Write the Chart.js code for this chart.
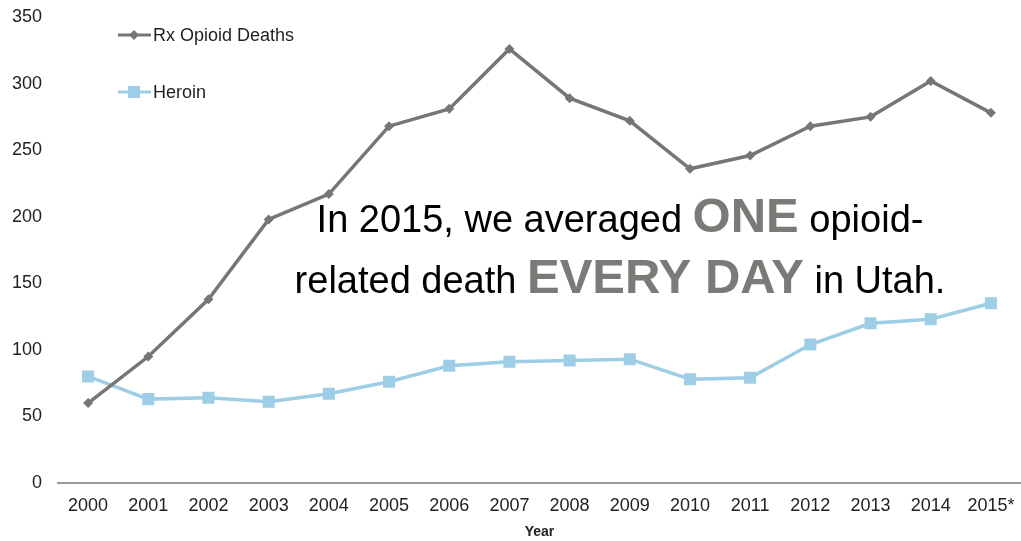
<!DOCTYPE html>
<html>
<head>
<meta charset="utf-8">
<script src="https://cdn.jsdelivr.net/npm/chart.js@4/dist/chart.umd.min.js"></script>
<style>
  html, body { margin: 0; padding: 0; background: #fff; }
  #wrap { position: relative; width: 1021px; height: 541px; }
</style>
</head>
<body>
<div id="wrap"><canvas id="deaths"></canvas></div>
<script>
let years = ['2000','2001','2002','2003','2004','2005','2006','2007','2008','2009','2010','2011','2012','2013','2014','2015*']
let rxDeaths = [60, 95, 138, 198, 217, 268, 281, 326, 289, 272, 236, 246, 268, 275, 302, 278]
let heroinDeaths = [80, 63, 64, 61, 67, 76, 88, 91, 92, 93, 78, 79, 104, 120, 123, 135]
let yTicks = [0, 50, 100, 150, 200, 250, 300, 350]

let font = '"Liberation Sans", Arial, sans-serif'

// legend drawn inside the plot, one row per dataset
let insideLegend = {
    id: 'insideLegend',
    afterDatasetsDraw(chart) {
        let ctx = chart.ctx
        let rows = [35, 92]
        chart.data.datasets.forEach((ds, i) => {
            let y = rows[i]
            ctx.save()
            ctx.strokeStyle = ds.borderColor
            ctx.lineWidth = 3
            ctx.beginPath()
            ctx.moveTo(118, y)
            ctx.lineTo(151, y)
            ctx.stroke()
            ctx.fillStyle = ds.pointBackgroundColor
            ctx.beginPath()
            if (ds.pointStyle == 'rect') {
                ctx.rect(128, y - 6, 12, 12)
            } else {
                ctx.moveTo(134, y - 5); ctx.lineTo(139, y); ctx.lineTo(134, y + 5); ctx.lineTo(129, y)
                ctx.closePath()
            }
            ctx.fill()
            ctx.fillStyle = '#1f1f1f'
            ctx.font = '18px ' + font
            ctx.textBaseline = 'middle'
            ctx.fillText(ds.label, 153, y + 1)
            ctx.restore()
        })
    }
}

// headline over the chart, mixed normal / bold grey runs
let headline = {
    id: 'headline',
    afterDraw(chart) {
        let ctx = chart.ctx
        let lines = [
            { y: 232, runs: [['In 2015, we averaged ', false], ['ONE', true], [' opioid-', false]] },
            { y: 293, runs: [['related death ', false], ['EVERY DAY', true], [' in Utah.', false]] }
        ]
        ctx.save()
        ctx.textBaseline = 'alphabetic'
        lines.forEach(line => {
            let widths = line.runs.map(r => {
                ctx.font = r[1] ? 'bold 49px ' + font : '38px ' + font
                return ctx.measureText(r[0]).width
            })
            let x = 620 - widths.reduce((t, n) => t + n) / 2
            line.runs.forEach((r, i) => {
                ctx.font = r[1] ? 'bold 49px ' + font : '38px ' + font
                ctx.fillStyle = r[1] ? '#7a7a77' : '#000'
                ctx.fillText(r[0], x, line.y)
                x += widths[i]
            })
        })
        ctx.restore()
    }
}

let chart = new Chart(document.getElementById('deaths'), {
    type: 'line',
    data: {
        labels: years,
        datasets: [{
            label: 'Rx Opioid Deaths',
            data: rxDeaths,
            borderColor: '#767676',
            backgroundColor: '#767676',
            pointBackgroundColor: '#767676',
            pointBorderWidth: 0,
            borderWidth: 3.5,
            pointStyle: 'rectRot',
            pointRadius: 5,
            tension: 0
        },
        {
            label: 'Heroin',
            data: heroinDeaths,
            borderColor: '#9ecde6',
            backgroundColor: '#9ecde6',
            pointBackgroundColor: '#9ecde6',
            pointBorderWidth: 0,
            borderWidth: 3.5,
            pointStyle: 'rect',
            pointRadius: 8.5,
            tension: 0
        }]
    },
    options: {
        responsive: true,
        maintainAspectRatio: false,
        animation: false,
        layout: { autoPadding: false, padding: { top: 17, right: 0, bottom: 0, left: 0 } },
        plugins: {
            legend: { display: false },
            tooltip: { enabled: false }
        },
        scales: {
            x: {
                offset: true,
                grid: { display: false, drawTicks: false },
                border: { display: true, color: '#9a9a9a', width: 2 },
                ticks: { color: '#222', font: { family: font, size: 18 }, padding: 12, maxRotation: 0, autoSkip: false },
                title: { display: true, text: 'Year', color: '#222', font: { family: font, size: 14, weight: 'bold' }, padding: { top: 3, bottom: 0 } },
                afterFit: s => { s.height = 58; s.paddingLeft = 0; s.paddingRight = 0 }
            },
            y: {
                min: 0,
                max: 350,
                afterBuildTicks: s => { s.ticks = yTicks.map(v => ({ value: v })) },
                grid: { display: false, drawTicks: false },
                border: { display: false },
                ticks: { color: '#222', font: { family: font, size: 18 }, padding: 16 },
                afterFit: s => { s.width = 58; s.paddingTop = 0; s.paddingBottom = 0 }
            }
        }
    },
    plugins: [insideLegend, headline]
})
</script>
</body>
</html>
